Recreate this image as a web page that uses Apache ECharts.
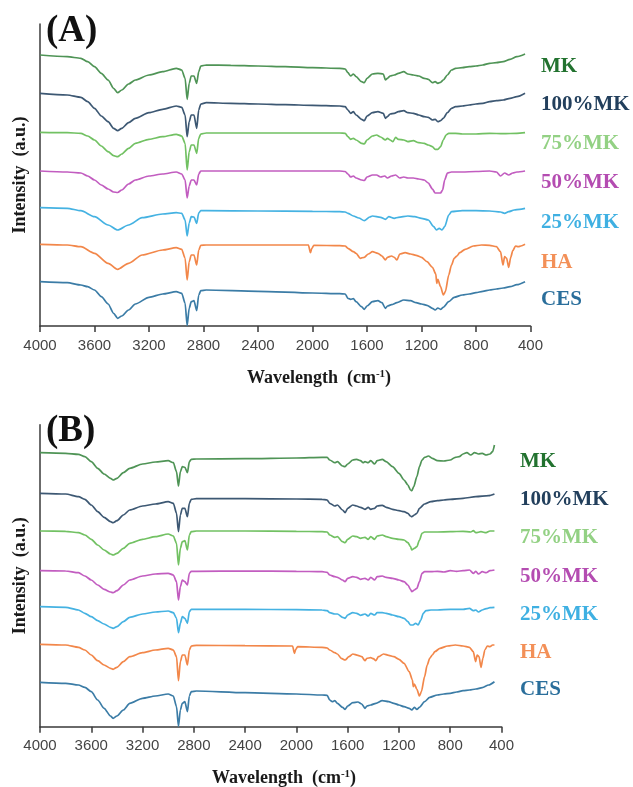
<!DOCTYPE html>
<html>
<head>
<meta charset="utf-8">
<script src="https://cdn.jsdelivr.net/npm/echarts@6/dist/echarts.min.js"></script>
<style>
  html, body { margin: 0; padding: 0; background: #ffffff; }
  #chart { width: 633px; height: 787px; }
</style>
</head>
<body>
<div id="chart"></div>
<script>
// FTIR spectra, two panels, each with seven vertically stacked samples.
// Each spectrum: [wavenumber (cm-1), intensity (a.u.)]

const seriesNames = ['MK', '100%MK', '75%MK', '50%MK', '25%MK', 'HA', 'CES'];
const xTicks = [4000, 3600, 3200, 2800, 2400, 2000, 1600, 1200, 800, 400];

// ---------- Panel (A) ----------
const A_MK = [[4000,271],[3800,269.3],[3700,267.7],[3650,264.3],[3600,259.3],[3550,252.7],[3500,246],[3460,237.7],[3430,233.3],[3400,236],[3350,242],[3300,246],[3200,251],[3100,254.3],[3000,257.7],[2960,256],[2935,247.7],[2920,226.7],[2905,242.7],[2890,250],[2870,250],[2850,242.7],[2835,254.3],[2820,260],[2780,261],[2600,260.7],[2400,260],[2200,259.3],[2000,258.3],[1800,257.7],[1760,257],[1740,253.3],[1720,250],[1700,252],[1680,249.3],[1640,244.3],[1620,243.3],[1600,247.7],[1560,252],[1520,252.7],[1480,252],[1465,246],[1450,247.7],[1430,250],[1400,251],[1370,252.7],[1330,254.3],[1300,252],[1260,251],[1220,250],[1180,247.7],[1150,246.7],[1120,243.3],[1100,244.3],[1080,242.7],[1060,243.7],[1040,246],[1010,251],[980,256],[950,257.7],[900,258.3],[850,259.3],[800,260],[750,261],[700,262.7],[650,263.3],[600,264.3],[550,266.7],[500,269.3],[440,272]];
const A_100MK = [[4000,232.7],[3800,231],[3700,228.7],[3650,224.3],[3600,217.7],[3550,210],[3500,204.3],[3460,197.7],[3430,195.3],[3400,197.7],[3350,203.3],[3300,207.7],[3200,213.3],[3100,216.7],[3000,220],[2960,218.7],[2935,211],[2920,189.3],[2905,204.3],[2890,211],[2870,211],[2850,197.7],[2835,216],[2820,222],[2780,223.3],[2600,222.7],[2400,222],[2200,221.3],[2000,220.7],[1800,220],[1760,219.3],[1740,216],[1720,212.7],[1700,214.3],[1680,211],[1640,206.7],[1620,205.3],[1600,210],[1560,213.3],[1520,214.3],[1480,212.7],[1465,207.7],[1450,209.3],[1430,212],[1400,212.7],[1370,214.3],[1330,215.3],[1300,213.3],[1260,212.7],[1220,211],[1180,209.3],[1150,208.7],[1120,206],[1100,206.7],[1080,204.3],[1060,205.3],[1040,207.7],[1010,213.3],[980,217.7],[950,219.3],[900,220],[850,221],[800,222],[750,222.7],[700,224.3],[650,225.3],[600,226],[550,227.7],[500,229.3],[440,232.7]];
const A_75MK = [[4000,193.7],[3800,193.3],[3700,192.7],[3650,190],[3600,186],[3550,180],[3500,174.3],[3460,170.3],[3430,169.3],[3400,172],[3350,177.7],[3300,182.7],[3200,186.7],[3100,189.3],[3000,191.7],[2960,190],[2935,182.7],[2920,156],[2905,174.3],[2890,181],[2870,181],[2850,172.7],[2835,187.7],[2820,192],[2780,193],[2400,193],[2000,193],[1800,193],[1760,192.7],[1740,189.3],[1720,186.7],[1700,187.7],[1680,186],[1640,182.7],[1620,182],[1600,186],[1560,190],[1530,191],[1500,189],[1465,186],[1450,187.7],[1430,186],[1410,184.3],[1390,188.7],[1370,186.7],[1330,186],[1300,184.3],[1260,185.3],[1220,183.3],[1180,182.7],[1150,181],[1120,179.3],[1100,176.7],[1080,176.7],[1060,179.3],[1040,186],[1020,191],[1000,192.7],[950,192.7],[900,192],[800,192],[700,192.7],[600,192.3],[500,192.7],[440,193.3]];
const A_50MK = [[4000,155],[3800,154],[3700,153],[3650,150],[3600,146],[3550,141],[3500,137],[3460,134],[3430,133.5],[3400,136],[3350,142],[3300,146],[3200,150],[3100,152],[3000,154],[2960,152],[2935,146],[2920,128],[2905,140],[2890,146],[2870,146],[2850,141],[2835,152],[2820,155],[2780,155],[2400,155],[2000,155],[1800,155],[1760,154.5],[1740,152],[1720,149],[1700,150],[1680,148],[1640,146],[1620,145.5],[1600,149],[1560,151],[1530,151],[1500,149],[1470,150],[1450,148],[1420,150],[1390,151],[1360,148],[1330,149],[1300,148],[1260,148],[1220,147],[1180,146],[1150,143],[1120,137],[1100,133],[1080,133],[1060,133],[1045,136],[1030,146],[1010,153],[980,154],[900,154],[800,154.5],[700,155],[650,154],[620,150],[590,153],[560,151],[530,153],[500,154],[440,155]];
const A_25MK = [[4000,118.3],[3800,117.7],[3700,115.3],[3600,109.3],[3500,101],[3430,96],[3350,101],[3250,108.3],[3100,112],[3000,113.3],[2960,112.7],[2935,106],[2920,90],[2905,103],[2890,109.3],[2870,109],[2850,102.7],[2835,113],[2820,115.3],[2780,115.3],[2400,115],[2000,114.7],[1800,114.3],[1760,114],[1740,112.7],[1700,110],[1660,108],[1620,105.3],[1580,109],[1560,110],[1500,108.7],[1465,106.7],[1440,109.3],[1400,107.7],[1370,108.7],[1300,110],[1250,109.3],[1200,107.7],[1150,106],[1110,99.3],[1090,96],[1070,97.7],[1050,96],[1030,99.3],[1000,111],[980,114.3],[900,115.3],[800,115.3],[700,115],[620,114],[590,112.7],[560,114.3],[520,116],[480,116.7],[440,117.7]];
const A_HA = [[4000,81.7],[3800,81],[3700,79.3],[3600,72.7],[3500,62.7],[3430,56.7],[3350,62.7],[3250,71],[3100,76],[3000,78.3],[2960,76.7],[2935,67.7],[2920,46],[2905,64.3],[2890,71],[2870,71],[2850,61],[2835,76],[2820,80.7],[2780,81],[2400,81],[2030,81],[2015,73.3],[2005,77.7],[1990,80.7],[1800,80.3],[1760,80],[1740,77.7],[1700,74.3],[1680,72.7],[1650,67.7],[1620,68.7],[1590,72],[1560,74.3],[1520,72.7],[1490,70],[1465,66],[1450,68.7],[1420,70],[1400,68.7],[1380,66],[1360,72],[1320,73.3],[1280,72],[1240,70.7],[1200,68.7],[1160,64.3],[1120,58.7],[1095,52],[1088,42.7],[1080,46.7],[1060,39.3],[1040,31],[1025,34.3],[1000,51],[980,61],[960,67.7],[940,70],[920,73.3],[880,76.7],[820,80],[760,81],[700,80.7],[650,79.3],[620,74.3],[602,61],[590,69.3],[575,67.7],[560,58.7],[545,68.7],[530,75.3],[510,80],[490,79.3],[470,80],[440,81.7]];
const A_CES = [[4000,44.3],[3800,43.3],[3700,41],[3650,39.3],[3600,36],[3550,29.3],[3500,22],[3460,12.7],[3430,7.7],[3400,10],[3350,16],[3300,22],[3200,28.7],[3100,32],[3000,34.3],[2960,32.7],[2935,22.7],[2920,0.5],[2905,17.7],[2890,24.3],[2870,25.3],[2850,15.3],[2835,31],[2820,35.3],[2780,36],[2400,34.7],[2000,33],[1800,32.3],[1760,32],[1740,27.7],[1720,26.7],[1700,27.3],[1680,24.3],[1640,19.3],[1620,16.7],[1600,20],[1560,24.3],[1520,25.3],[1490,23.3],[1465,17.7],[1450,20],[1420,21.3],[1380,23.3],[1330,26],[1280,25.3],[1240,23.3],[1200,22],[1160,20.7],[1120,17.7],[1100,16],[1080,18],[1060,16.7],[1040,18.7],[1000,24.3],[960,28.7],[900,31],[850,32],[800,33.3],[750,34.7],[700,36],[650,37],[600,38],[550,39.3],[500,41.3],[440,44.3]];

// ---------- Panel (B) ----------
const B_MK = [[4000,274],[3800,273.4],[3700,272.4],[3650,270],[3600,265],[3550,258.4],[3500,252.7],[3450,248.4],[3430,246.7],[3400,248.4],[3350,254],[3300,258.4],[3200,262.7],[3100,264.7],[3000,266],[2960,264],[2935,255],[2920,240.7],[2905,255],[2890,260],[2870,259.4],[2850,254],[2835,265],[2820,267.4],[2780,267.7],[2400,268],[2000,268.7],[1800,269.4],[1760,269.4],[1740,266.7],[1700,264],[1680,265],[1640,260.7],[1620,260],[1600,262.7],[1560,266.7],[1530,267.4],[1500,266],[1480,264],[1465,265],[1440,264],[1420,266],[1390,262.7],[1370,266],[1330,267.4],[1300,265],[1250,260],[1200,253.4],[1160,246.7],[1130,241.7],[1110,236.7],[1100,236],[1085,240],[1060,250],[1040,260],[1020,266.7],[1000,269.4],[970,270.7],[940,268.4],[900,266],[850,265.7],[800,266.7],[760,269.4],[730,270],[700,272.7],[670,274],[640,271.7],[610,274],[580,272.7],[550,273.4],[520,271.7],[490,272.7],[470,275],[455,281.7]];
const B_100MK = [[4000,233.4],[3800,232.7],[3700,230],[3650,227.4],[3600,221.7],[3550,215],[3500,209.4],[3450,205],[3430,204],[3400,206],[3350,211.7],[3300,216.7],[3200,220.7],[3100,222.7],[3000,225],[2960,223.4],[2935,213.4],[2920,195],[2905,211.7],[2890,218.4],[2870,218.4],[2850,210],[2835,223.4],[2820,227.4],[2780,228],[2400,228],[2000,227.7],[1800,227.4],[1760,226.7],[1740,223.4],[1700,220.7],[1680,221.7],[1640,216.7],[1620,214],[1600,218.4],[1560,221.7],[1530,220.7],[1500,219.4],[1465,217.4],[1440,219.4],[1420,217.4],[1390,218.4],[1370,220.7],[1330,221.4],[1300,219.4],[1250,217.4],[1200,216],[1160,215],[1130,213.4],[1110,210.7],[1100,210],[1080,211.7],[1060,213.4],[1040,218.4],[1000,222.7],[950,225],[900,226],[850,226.7],[800,227.4],[700,228.4],[600,230],[500,231],[455,232.7]];
const B_75MK = [[4000,195.7],[3800,195.4],[3700,194],[3650,191.7],[3600,187.4],[3550,181.7],[3500,176.7],[3450,172.7],[3430,171.7],[3400,173.4],[3350,178.4],[3300,183.4],[3200,187.4],[3100,190],[3000,192.7],[2960,190.7],[2935,183.4],[2920,161.7],[2905,178.4],[2890,185],[2870,186],[2850,176.7],[2835,191.7],[2820,195],[2780,195.7],[2400,195.7],[2000,195.4],[1800,195],[1760,194.7],[1740,191.7],[1700,189.4],[1680,190],[1640,185],[1620,184],[1600,187.4],[1560,190.7],[1530,190],[1500,188.4],[1465,189.4],[1440,187.4],[1420,190],[1390,187.4],[1370,190.7],[1330,191.7],[1300,190],[1250,188.4],[1200,187.4],[1160,186.7],[1130,184],[1110,180],[1100,176.7],[1080,178.4],[1060,180],[1040,186.7],[1020,193.4],[1000,194.7],[950,194.7],[900,194.7],[800,195],[700,195.4],[640,194.7],[620,196],[600,194],[560,195],[520,194],[490,195.7],[455,195.7]];
const B_50MK = [[4000,156],[3800,155.7],[3700,154],[3650,150.7],[3600,146.7],[3550,141.7],[3500,137.4],[3450,134.7],[3430,134],[3400,136],[3350,141.7],[3300,146.7],[3200,150.7],[3100,152.7],[3000,153.4],[2960,151.7],[2935,145],[2920,126.7],[2905,140],[2890,146.7],[2870,145],[2850,141.7],[2835,153.4],[2820,155.4],[2780,155.4],[2400,155.7],[2000,155.4],[1800,155],[1760,154.4],[1740,151.7],[1700,150],[1680,149.4],[1640,146.7],[1620,145],[1600,148.4],[1560,150],[1530,149.4],[1500,147.4],[1465,148.4],[1440,146.7],[1420,149.4],[1390,146.7],[1370,150],[1330,150.7],[1300,149.4],[1250,148.4],[1200,146.7],[1160,145],[1130,141.7],[1110,137.4],[1100,135],[1080,136.7],[1060,138.4],[1040,145],[1020,153.4],[1000,155],[950,155],[900,155.4],[850,154.7],[800,156],[750,155.4],[700,156],[650,156.7],[620,153.4],[600,155.4],[580,152.7],[550,155],[520,154],[490,156],[455,156.7]];
const B_25MK = [[4000,120],[3800,119.4],[3700,116.7],[3650,113.4],[3600,110],[3550,106],[3500,102.7],[3450,99.4],[3430,98.4],[3400,100],[3350,105],[3300,109.4],[3200,112.7],[3100,114.7],[3000,115.7],[2960,114],[2935,108.4],[2920,94],[2905,103.4],[2890,110],[2870,108.4],[2850,103.4],[2835,115],[2820,117.4],[2780,117.4],[2400,117.4],[2000,117],[1800,116.7],[1760,116],[1740,114],[1700,112.7],[1680,112.7],[1640,109.4],[1620,108.4],[1600,111.7],[1560,114],[1530,113.4],[1500,111.4],[1465,112.7],[1440,110.7],[1420,113.4],[1390,111.7],[1370,114],[1330,114],[1300,113.4],[1250,111.7],[1200,110],[1160,108.4],[1130,105],[1110,101.7],[1090,101.7],[1070,103.4],[1050,101.7],[1030,106.7],[1010,113.4],[990,116],[950,116.7],[900,116.7],[800,117.4],[700,117.4],[650,118.4],[620,116],[600,116.7],[580,114.7],[550,116.7],[520,118],[490,119],[455,119.4]];
const B_HA = [[4000,82.4],[3800,81.7],[3700,79.4],[3650,76.7],[3600,71.7],[3550,66],[3500,61.7],[3450,58.4],[3430,57.4],[3400,59.4],[3350,65],[3300,70],[3200,74],[3100,76.7],[3000,78.4],[2960,76.7],[2935,70],[2920,46],[2905,65],[2890,71.7],[2870,71.7],[2850,61.7],[2835,76.7],[2820,80.7],[2780,81.4],[2400,81],[2030,80.7],[2015,73.4],[2005,77.4],[1990,80],[1800,79.4],[1760,78.7],[1740,76.7],[1700,74],[1680,72.7],[1650,68.4],[1620,66.7],[1590,70],[1560,72.7],[1520,71.4],[1490,70],[1465,66],[1450,68.4],[1420,69],[1400,68],[1380,66],[1360,70],[1320,72.7],[1280,71.4],[1240,70],[1200,67.4],[1160,63.4],[1120,55],[1095,46.7],[1088,40],[1080,42.7],[1060,37.4],[1040,30.7],[1025,35],[1000,50],[980,61.7],[960,68.4],[940,71.7],[920,75],[880,78.4],[820,80.7],[760,81.7],[700,80.7],[650,79.4],[620,75],[602,65],[590,71.7],[575,70],[560,59.4],[545,68.4],[530,76.7],[510,80.7],[490,80],[470,81.7],[455,81.7]];
const B_CES = [[4000,44.4],[3800,43.4],[3700,41.7],[3650,39.4],[3600,35],[3550,26.7],[3500,18.4],[3450,10.7],[3430,8.4],[3400,10.7],[3350,16.7],[3300,23.4],[3200,28.4],[3100,30.7],[3000,32.7],[2960,30.7],[2935,20],[2920,0.5],[2905,16.7],[2890,23.4],[2870,25],[2850,15],[2835,30.7],[2820,35],[2780,35.7],[2400,34],[2000,32.7],[1800,31.7],[1760,31.4],[1740,26.7],[1720,25],[1700,26],[1680,23.4],[1640,19.4],[1620,17.4],[1600,20.7],[1560,24],[1520,24.7],[1490,22.7],[1465,18.4],[1450,20.7],[1420,21.7],[1380,23.4],[1330,26],[1280,25],[1240,23.4],[1200,21.7],[1160,20],[1120,18.4],[1100,16.7],[1080,19.4],[1060,17.4],[1040,19.4],[1000,25],[960,29.4],[900,31.7],[850,32.7],[800,33.4],[750,34.7],[700,36],[650,36.7],[600,37.7],[550,39],[500,41.7],[455,45]];

const panelA = [A_MK, A_100MK, A_75MK, A_50MK, A_25MK, A_HA, A_CES];
const panelB = [B_MK, B_100MK, B_75MK, B_50MK, B_25MK, B_HA, B_CES];

const lineColors  = ['#4f9456', '#3d5873', '#72c163', '#c25dc0', '#45b2e2', '#f2874a', '#3b7ca6'];
const labelColors = ['#22722f', '#223f5c', '#93d184', '#b44cb1', '#3fb0e2', '#f39058', '#2a6e9b'];

const serif = "'Liberation Serif', 'Times New Roman', serif";
const tickFont = "'Liberation Sans', Arial, sans-serif";
const axisColor = '#3a3a3a';

const chart = echarts.init(document.getElementById('chart'), null, { renderer: 'canvas' });

function xAxisFor(gridIndex) {
  return {
    gridIndex, type: 'value', inverse: true, min: 400, max: 4000, interval: 400,
    axisLine: { show: true, onZero: false, lineStyle: { color: axisColor, width: 1.5 } },
    axisTick: { show: true, inside: false, length: 6, lineStyle: { color: axisColor, width: 1.5 } },
    axisLabel: { show: true, margin: 12, fontSize: 15, color: '#444444', fontFamily: tickFont,
                 formatter: v => xTicks.includes(v) ? String(v) : '' },
    splitLine: { show: false }
  };
}
function yAxisFor(gridIndex) {
  return {
    gridIndex, type: 'value', min: 0, max: 302,
    axisLine: { show: true, lineStyle: { color: axisColor, width: 1.5 } },
    axisTick: { show: false }, axisLabel: { show: false }, splitLine: { show: false },
    name: 'Intensity  (a.u.)', nameLocation: 'middle', nameRotate: 90, nameGap: 11,
    nameTextStyle: { fontFamily: serif, fontWeight: 'bold', fontSize: 18, color: '#1a1a1a' }
  };
}

const series = [];
[panelA, panelB].forEach((panel, p) => {
  panel.forEach((data, i) => {
    series.push({
      name: seriesNames[i] + (p ? ' (B)' : ' (A)'),
      type: 'line', xAxisIndex: p, yAxisIndex: p, data,
      showSymbol: false, smooth: 0.25, smoothMonotone: 'x',
      lineStyle: { color: lineColors[i], width: 1.7 },
      z: 3
    });
  });
});

// sample names on the right of each panel
const labelYA = [67, 105, 144, 183, 223, 263, 300];
const labelYB = [462, 500, 538, 577, 615, 653, 690];
const graphics = [];
seriesNames.forEach((n, i) => {
  graphics.push({ type: 'text', left: 541, top: labelYA[i] - 11,
    style: { text: n, fill: labelColors[i], font: `bold 21px ${serif}` } });
  graphics.push({ type: 'text', left: 520, top: labelYB[i] - 11,
    style: { text: n, fill: labelColors[i], font: `bold 21px ${serif}` } });
});
graphics.push({ type: 'text', left: 46, top: 13, style: { text: '(A)', fill: '#111', font: `bold 37px ${serif}` } });
graphics.push({ type: 'text', left: 46, top: 413, style: { text: '(B)', fill: '#111', font: `bold 37px ${serif}` } });

function axisTitle(cx, cy) {
  return {
    type: 'text', x: cx, y: cy,
    style: {
      text: '{t|Wavelength  (cm}{s|-1}{t|)}',
      align: 'center', verticalAlign: 'middle',
      rich: {
        t: { fontFamily: serif, fontWeight: 'bold', fontSize: 18, fill: '#1a1a1a', color: '#1a1a1a' },
        s: { fontFamily: serif, fontWeight: 'bold', fontSize: 11, fill: '#1a1a1a', color: '#1a1a1a', verticalAlign: 'top', padding: [0, 0, 8, 0] }
      }
    }
  };
}
graphics.push(axisTitle(319, 378));
graphics.push(axisTitle(284, 778));

chart.setOption({
  animation: false,
  backgroundColor: '#ffffff',
  grid: [
    { left: 40, top: 24, width: 490.5, height: 302 },
    { left: 40, top: 424.7, width: 461.5, height: 302 }
  ],
  xAxis: [xAxisFor(0), xAxisFor(1)],
  yAxis: [yAxisFor(0), yAxisFor(1)],
  series,
  graphic: graphics
});
</script>
</body>
</html>
